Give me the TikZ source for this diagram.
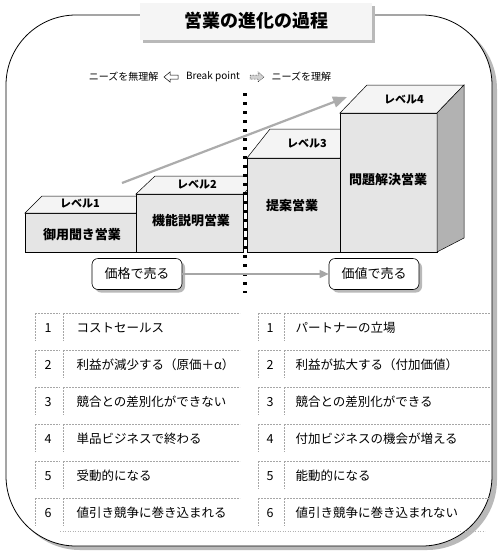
\documentclass[tikz,border=0pt]{standalone}
\usepackage{fontspec}
\setmainfont{Noto Sans CJK JP}
\usetikzlibrary{arrows.meta,calc,shadows}
\begin{document}
\begin{tikzpicture}[x=1pt,y=-1pt,
  facefront/.style={draw=black,line width=0.5pt,fill=gray!20},
  facetop/.style={draw=black,line width=0.5pt,fill=gray!9},
  faceside/.style={draw=black,line width=0.5pt,fill=gray!60},
  lvl/.style={font=\fontsize{11}{12}\selectfont\bfseries},
  blk/.style={font=\fontsize{13}{14}\selectfont\bfseries},
  legend/.style={font=\fontsize{10}{12}\selectfont},
  pill/.style={draw=black,line width=0.6pt,rounded corners=6pt,fill=white,
    minimum width=90pt,minimum height=31pt,font=\fontsize{13}{14}\selectfont,
    drop shadow={shadow xshift=3pt,shadow yshift=-3pt,fill=gray!55,opacity=1}},
  cell/.style={draw=gray!70,line width=0.5pt,dashed,dash pattern=on 2pt off 1pt},
  rowtxt/.style={anchor=west,font=\fontsize{12.5}{14}\selectfont},
  numtxt/.style={font=\fontsize{12.5}{14}\selectfont}]
\useasboundingbox (0,0) rectangle (501,558);
% outer frame with shadow
\fill[gray!55,rounded corners=70pt] (10,19) rectangle (497,550);
\filldraw[fill=white,draw=black,line width=0.8pt,rounded corners=70pt] (6,15) rectangle (492,546);
% title box
\fill[gray!55] (143,6) rectangle (375,43);
\fill[gray!8] (140,3) rectangle (372,40);
\node[font=\fontsize{18}{20}\selectfont\bfseries] (title) at (256,21) {営業の進化の過程};
% legend
\node[legend,anchor=east] (lnu) at (162,77) {ニーズを無理解};
\draw[line width=0.5pt,fill=white] (164,77) -- (170,72) -- (170,75) -- (178,75) -- (178,79) -- (170,79) -- (170,82) -- cycle;
\node[legend] (lbp) at (213,77) {Break point};
\draw[line width=0.5pt,fill=gray!35,densely dotted] (264,77) -- (258,72) -- (258,75) -- (250,75) -- (250,79) -- (258,79) -- (258,82) -- cycle;
\node[legend,anchor=west] (lun) at (268,77) {ニーズを理解};
% level 1
\draw[facefront] (25,213) rectangle (136,252);
\draw[facetop] (25,213) -- (42,196) -- (153,196) -- (136,213) -- cycle;
% level 2
\draw[facefront] (136,194) rectangle (243,252);
\draw[facetop] (136,194) -- (155,176) -- (262,176) -- (243,194) -- cycle;
% level 3
\draw[facefront] (247,158) rectangle (340,252);
\draw[facetop] (247,158) -- (270,129) -- (363,129) -- (340,158) -- cycle;
% level 4
\draw[facefront] (340,113) rectangle (437,252);
\draw[facetop] (340,113) -- (367,85) -- (464,85) -- (437,113) -- cycle;
\draw[faceside] (437,113) -- (464,85) -- (464,238) -- (437,252) -- cycle;
% level labels
\node[lvl] (lv1) at (80,204) {レベル1};
\node[lvl] (lv2) at (197,185) {レベル2};
\node[lvl] (lv3) at (307,144) {レベル3};
\node[lvl] (lv4) at (404,100) {レベル4};
\node[blk] (b1) at (82,235) {御用聞き営業};
\node[blk] (b2) at (191,221) {機能説明営業};
\node[blk] (b3) at (292,206) {提案営業};
\node[blk] (b4) at (388,180) {問題解決営業};
% break point line
\coordinate (bpa) at (245,93);
\coordinate (bpb) at (245,293);
\draw[line width=3.5pt,dash pattern=on 3pt off 6pt] (bpa) -- (bpb);
% rising arrow
\coordinate (ra) at (122,183);
\coordinate (rb) at (347,97);
\draw[gray!65,line width=2.2pt,-{Triangle[length=14pt,width=11pt]}] (ra) -- (rb);
% pills
\node[pill] (p1) at (137,274) {価格で売る};
\node[pill] (p2) at (374,274) {価値で売る};
\draw[gray!70,line width=1.5pt,-{Triangle[length=9pt,width=8pt]}] (p1) -- (p2);
% rows
\foreach \i/\lt/\rt in {1/コストセールス/パートナーの立場,
  2/利益が減少する（原価＋α）/利益が拡大する（付加価値）,
  3/競合との差別化ができない/競合との差別化ができる,
  4/単品ビジネスで終わる/付加ビジネスの機会が増える,
  5/受動的になる/能動的になる,
  6/値引き競争に巻き込まれる/値引き競争に巻き込まれない}{
  \pgfmathsetmacro{\yy}{328+37*(\i-1)}
  \draw[cell] (35,\yy-15) -- (60,\yy-15);
  \draw[cell] (35,\yy-15) -- (35,\yy+13);
  \draw[cell] (63,\yy-15) -- (240,\yy-15);
  \draw[cell] (63,\yy-15) -- (63,\yy+13);
  \draw[cell] (258,\yy-15) -- (281,\yy-15);
  \draw[cell] (258,\yy-15) -- (258,\yy+13);
  \draw[cell] (284,\yy-15) -- (490,\yy-15);
  \draw[cell] (284,\yy-15) -- (284,\yy+13);
  \node[numtxt] (nl\i) at (48,\yy) {\i};
  \node[rowtxt] (tl\i) at (73,\yy) {\lt};
  \node[numtxt] (nr\i) at (270,\yy) {\i};
  \node[rowtxt] (tr\i) at (292,\yy) {\rt};
}
\draw[gray!60,line width=0.5pt,dotted] (60,531) -- (485,531);
\end{tikzpicture}
\end{document}
